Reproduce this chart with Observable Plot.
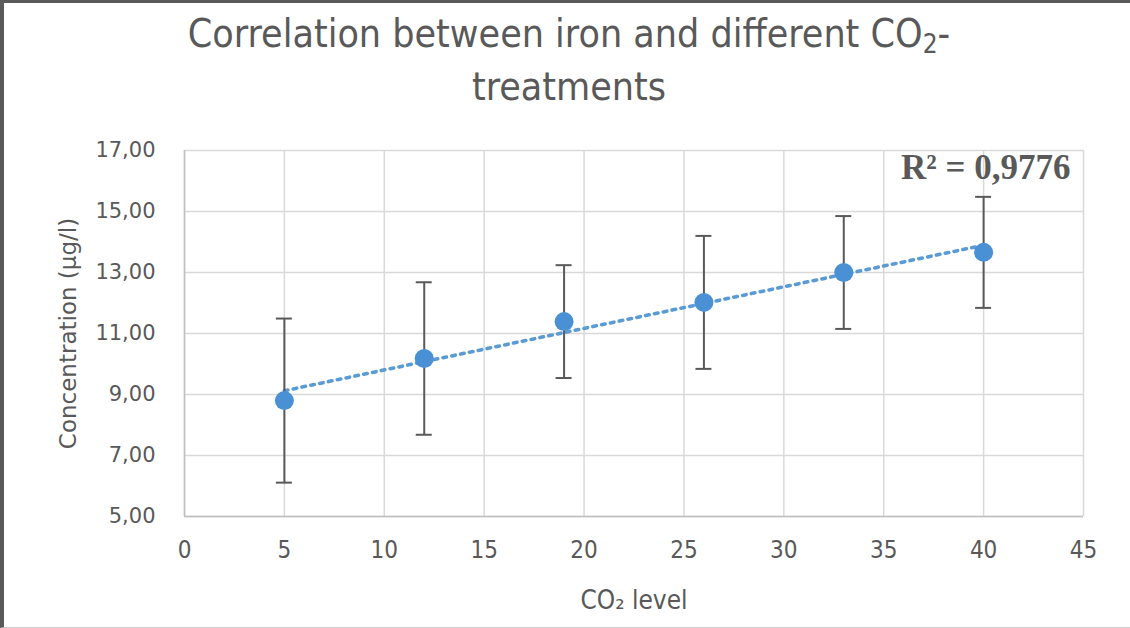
<!DOCTYPE html>
<html>
<head>
<meta charset="utf-8">
<script src="https://cdn.jsdelivr.net/npm/d3@7"></script>
<script src="https://cdn.jsdelivr.net/npm/@observablehq/plot@0.6"></script>
<style>
  html, body { margin: 0; padding: 0; background: #fff; }
  #frame {
    position: relative; width: 1130px; height: 628px; box-sizing: border-box;
    border-top: 3px solid #5a5a5a; border-left: 4px solid #5a5a5a; border-bottom: 1px solid #cfcfcf;
    overflow: hidden;
  }
  #title {
    position: absolute; left: 0; top: 4px; width: 1130px; text-align: center;
    font-family: "Liberation Sans Narrow", "DejaVu Sans Condensed", "Open Sans", sans-serif;
    font-size: 39px; line-height: 53px; color: #595959;
  }
  #title sub { font-size: 26px; vertical-align: -6px; line-height: 0; }
  #chart { position: absolute; left: -4px; top: 127px; }
</style>
</head>
<body>
<div id="frame">
  <div id="title">Correlation between iron and different CO<sub>2</sub>-<br>treatments</div>
  <div id="chart"></div>
</div>
<script>
const co2Levels = [5, 12, 19, 26, 33, 40];
const ironMeans = [8.80, 10.18, 11.39, 12.02, 13.00, 13.66];
const ironErrors = [2.69, 2.50, 1.85, 2.18, 1.85, 1.82];
const xTicks = [0, 5, 10, 15, 20, 25, 30, 35, 40, 45];
const yTicks = [5, 7, 9, 11, 13, 15, 17];
const xLabel = "CO₂ level";
const yLabel = "Concentration (µg/l)";
const r2Label = "R² = 0,9776";

const data = co2Levels.map((x, i) => ({x, y: ironMeans[i], err: ironErrors[i]}));
const capHalf = 0.4;
const gray = "#595959";
const blue = "#4a90d4";
const trendBlue = "#5b9bd5";

const chart = Plot.plot({
  width: 1130,
  height: 501,
  marginLeft: 184,
  marginRight: 47,
  marginTop: 20,
  marginBottom: 115,
  x: {domain: [0, 45]},
  y: {domain: [5, 17]},
  style: {background: "transparent"},
  marks: [
    Plot.gridX(xTicks, {stroke: "#d9d9d9", strokeOpacity: 1, strokeWidth: 1.5}),
    Plot.gridY(yTicks, {stroke: "#d9d9d9", strokeOpacity: 1, strokeWidth: 1.5}),
    Plot.ruleY([5], {stroke: "#bfbfbf", strokeWidth: 1.5}),
    Plot.ruleX([0], {stroke: "#bfbfbf", strokeWidth: 1.5}),
    Plot.axisY(yTicks, {
      tickSize: 0, tickPadding: 29, label: null,
      tickFormat: d => d.toFixed(2).replace(".", ","),
      fontSize: 21, fill: gray, fontFamily: "DejaVu Sans, Verdana, sans-serif"
    }),
    Plot.axisX(xTicks, {
      tickSize: 0, tickPadding: 24, label: null,
      fontSize: 24, fill: gray,
      fontFamily: "Liberation Sans Narrow, DejaVu Sans Condensed, sans-serif"
    }),
    Plot.text([xLabel], {
      frameAnchor: "bottom", lineAnchor: "middle", dy: 84, text: d => d, fontSize: 26, fill: gray,
      fontFamily: "Liberation Sans Narrow, DejaVu Sans Condensed, sans-serif"
    }),
    Plot.text([yLabel], {
      frameAnchor: "left", textAnchor: "middle", lineAnchor: "middle", dx: -116, rotate: -90,
      text: d => d, fontSize: 23, fill: gray, letterSpacing: 0.6,
      fontFamily: "DejaVu Sans, Verdana, sans-serif"
    }),
    Plot.linearRegressionY(data, {
      x: "x", y: "y", ci: 0, stroke: trendBlue, strokeWidth: 3.6, strokeDasharray: "3.6,5.4"
    }),
    Plot.ruleX(data, {x: "x", y1: d => d.y - d.err, y2: d => d.y + d.err, stroke: gray, strokeWidth: 2}),
    Plot.ruleY(data, {y: d => d.y + d.err, x1: d => d.x - capHalf, x2: d => d.x + capHalf, stroke: gray, strokeWidth: 2}),
    Plot.ruleY(data, {y: d => d.y - d.err, x1: d => d.x - capHalf, x2: d => d.x + capHalf, stroke: gray, strokeWidth: 2}),
    Plot.dot(data, {x: "x", y: "y", r: 9.5, fill: blue, stroke: "none"}),
    Plot.text([r2Label], {
      frameAnchor: "top-right", lineAnchor: "middle", textAnchor: "end", dx: -13, dy: 17,
      text: d => d, fontSize: 35, fontWeight: "bold", fill: gray,
      fontFamily: "Liberation Serif, DejaVu Serif, serif"
    })
  ]
});
document.getElementById("chart").appendChild(chart);
</script>
</body>
</html>
